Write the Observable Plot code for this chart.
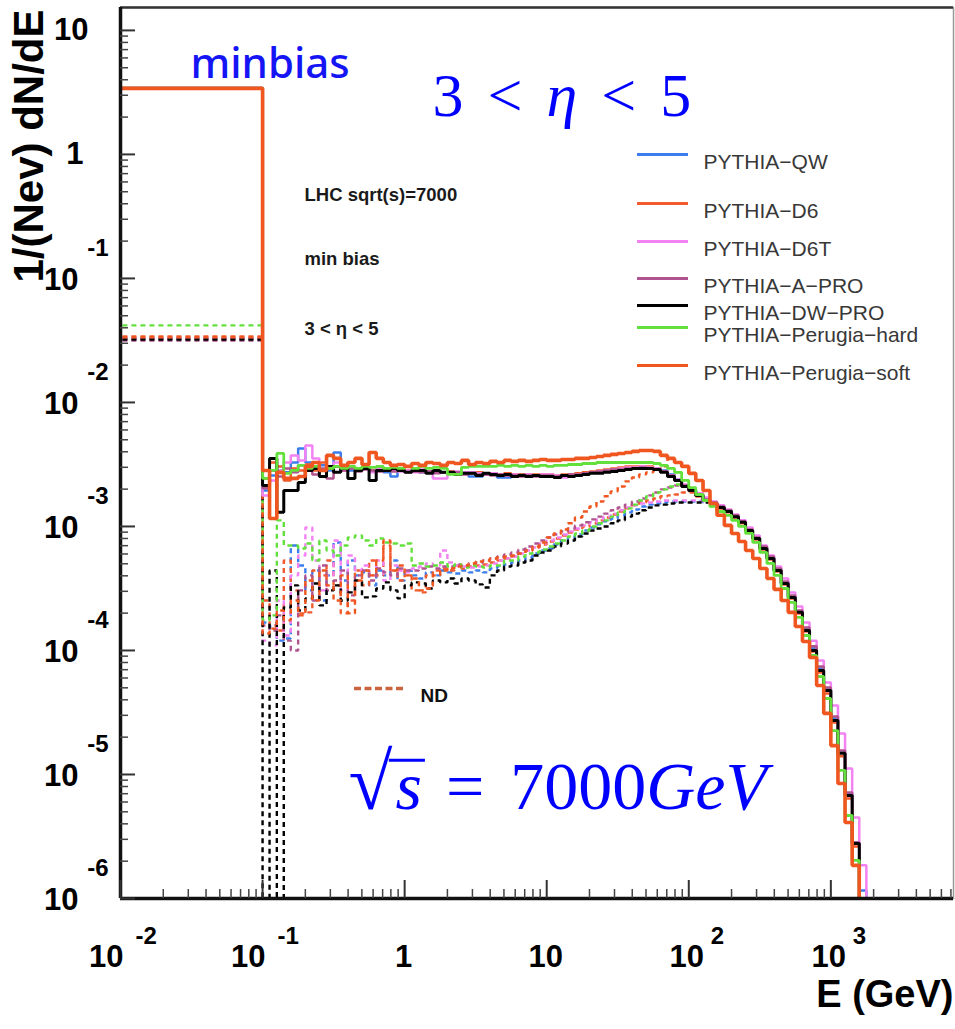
<!DOCTYPE html>
<html><head><meta charset="utf-8">
<script src="https://cdn.jsdelivr.net/npm/d3@7"></script>
<script src="https://cdn.jsdelivr.net/npm/@observablehq/plot@0.6"></script>
<style>
html,body{margin:0;padding:0;background:#fff;}
#chart svg{display:block;}
</style></head>
<body><div id="chart"></div>
<script>
// ---------------- data ----------------
const tunes = ["PYTHIA\u2212QW", "PYTHIA\u2212D6", "PYTHIA\u2212D6T", "PYTHIA\u2212A\u2212PRO",
  "PYTHIA\u2212DW\u2212PRO", "PYTHIA\u2212Perugia\u2212hard", "PYTHIA\u2212Perugia\u2212soft"];
const tuneColors = ["#3b7ded", "#f25b2e", "#f383f3", "#b0548f", "#000000", "#63e03c", "#f0561f"];

// histogram bin edges (GeV), 20 bins per decade from 0.1 GeV
const binEdges = [0.1,0.112,0.126,0.141,0.158,0.178,0.2,0.224,0.251,0.282,0.316,0.355,0.398,0.447,0.501,0.562,0.631,0.708,0.794,0.891,
  1,1.12,1.26,1.41,1.58,1.78,2,2.24,2.51,2.82,3.16,3.55,3.98,4.47,5.01,5.62,6.31,7.08,7.94,8.91,
  10,11.2,12.6,14.1,15.8,17.8,20,22.4,25.1,28.2,31.6,35.5,39.8,44.7,50.1,56.2,63.1,70.8,79.4,89.1,
  100,112,126,141,158,178,200,224,251,282,316,355,398,447,501,562,631,708,794,891,
  1000,1122,1259,1413,1585,1778];
// first (wide) bin runs from E = 0 to 0.1 GeV
const firstBinEdges = [0, 0.1];

// min-bias first-bin content and ND first-bin content per tune
const mbFirstBin = [3.41, 3.41, 3.41, 3.41, 3.41, 3.41, 3.41];
const ndFirstBin = [3.28e-2, 3.41e-2, 3.28e-2, 3.16e-2, 3.22e-2, 4.18e-2, 3.35e-2];

// min-bias (solid) bin contents, bins 0..84
const mbQW = [1.95e-3,2.58e-3,2.83e-3,2.73e-3,3.28e-3,4.26e-3,3.28e-3,3.05e-3,3.11e-3,2.83e-3,
  3.95e-3,3.05e-3,2.83e-3,2.94e-3,2.99e-3,2.83e-3,2.94e-3,2.73e-3,2.53e-3,2.83e-3,
  2.78e-3,2.83e-3,2.73e-3,2.78e-3,2.83e-3,2.73e-3,2.73e-3,2.68e-3,2.68e-3,2.53e-3,
  2.53e-3,2.68e-3,2.68e-3,2.48e-3,2.48e-3,2.63e-3,2.63e-3,2.58e-3,2.58e-3,2.58e-3,
  2.53e-3,2.53e-3,2.58e-3,2.63e-3,2.63e-3,2.68e-3,2.73e-3,2.78e-3,2.83e-3,2.83e-3,
  2.88e-3,2.94e-3,2.99e-3,2.99e-3,2.99e-3,2.94e-3,2.83e-3,2.63e-3,2.39e-3,2.14e-3,
  1.95e-3,1.81e-3,1.65e-3,1.53e-3,1.42e-3,1.32e-3,1.20e-3,1.08e-3,9.46e-4,8.15e-4,
  6.77e-4,5.62e-4,4.50e-4,3.54e-4,2.73e-4,2.06e-4,1.48e-4,1.04e-4,7.16e-5,4.85e-5,
  2.83e-5,1.50e-5,7.03e-6,2.83e-6,1.16e-6];
const mbD6 = [2.44e-3,3.28e-3,3.05e-3,2.35e-3,2.94e-3,2.83e-3,3.16e-3,2.83e-3,3.28e-3,2.94e-3,
  3.05e-3,2.83e-3,2.99e-3,2.88e-3,2.94e-3,2.83e-3,2.94e-3,2.83e-3,2.88e-3,2.83e-3,
  2.83e-3,2.78e-3,2.83e-3,2.78e-3,2.78e-3,2.73e-3,2.78e-3,2.73e-3,2.73e-3,2.68e-3,
  2.73e-3,2.68e-3,2.68e-3,2.63e-3,2.68e-3,2.63e-3,2.63e-3,2.63e-3,2.63e-3,2.63e-3,
  2.63e-3,2.58e-3,2.63e-3,2.63e-3,2.68e-3,2.73e-3,2.78e-3,2.83e-3,2.88e-3,2.94e-3,
  2.99e-3,3.05e-3,3.05e-3,3.05e-3,3.05e-3,2.94e-3,2.78e-3,2.58e-3,2.35e-3,2.10e-3,
  1.92e-3,1.75e-3,1.62e-3,1.50e-3,1.40e-3,1.30e-3,1.18e-3,1.06e-3,9.12e-4,7.86e-4,
  6.52e-4,5.42e-4,4.34e-4,3.41e-4,2.63e-4,1.99e-4,1.42e-4,9.82e-5,6.65e-5,4.50e-5,
  2.63e-5,1.40e-5,6.40e-6,2.63e-6,0];
const mbD6T = [1.78e-3,2.35e-3,2.83e-3,3.28e-3,3.74e-3,3.41e-3,4.50e-3,3.54e-3,2.53e-3,3.05e-3,
  3.28e-3,2.83e-3,3.05e-3,2.83e-3,2.94e-3,2.73e-3,2.94e-3,2.83e-3,2.88e-3,2.78e-3,
  2.83e-3,2.73e-3,2.88e-3,2.78e-3,2.44e-3,2.44e-3,2.73e-3,2.78e-3,2.73e-3,2.73e-3,
  2.68e-3,2.63e-3,2.68e-3,2.63e-3,2.58e-3,2.63e-3,2.58e-3,2.63e-3,2.58e-3,2.63e-3,
  2.63e-3,2.58e-3,2.48e-3,2.53e-3,2.63e-3,2.68e-3,2.73e-3,2.78e-3,2.83e-3,2.88e-3,
  2.94e-3,2.99e-3,2.99e-3,3.05e-3,2.99e-3,2.94e-3,2.78e-3,2.58e-3,2.39e-3,2.18e-3,
  1.99e-3,1.85e-3,1.71e-3,1.59e-3,1.48e-3,1.37e-3,1.25e-3,1.12e-3,9.82e-4,8.46e-4,
  7.03e-4,5.84e-4,4.76e-4,3.81e-4,2.94e-4,2.26e-4,1.68e-4,1.20e-4,8.31e-5,5.52e-5,
  3.60e-5,2.14e-5,1.12e-5,4.50e-6,1.85e-6];
const mbAPRO = [2.03e-3,2.83e-3,2.53e-3,2.94e-3,2.73e-3,3.11e-3,2.83e-3,2.63e-3,2.94e-3,2.44e-3,
  3.05e-3,2.83e-3,2.94e-3,2.78e-3,2.88e-3,2.83e-3,2.78e-3,2.88e-3,2.78e-3,2.83e-3,
  2.73e-3,2.78e-3,2.73e-3,2.78e-3,2.68e-3,2.73e-3,2.68e-3,2.73e-3,2.63e-3,2.68e-3,
  2.63e-3,2.63e-3,2.58e-3,2.63e-3,2.58e-3,2.58e-3,2.53e-3,2.58e-3,2.53e-3,2.58e-3,
  2.58e-3,2.53e-3,2.58e-3,2.63e-3,2.63e-3,2.68e-3,2.73e-3,2.78e-3,2.83e-3,2.88e-3,
  2.88e-3,2.94e-3,2.94e-3,2.99e-3,2.94e-3,2.88e-3,2.78e-3,2.58e-3,2.35e-3,2.14e-3,
  1.95e-3,1.81e-3,1.65e-3,1.56e-3,1.45e-3,1.35e-3,1.23e-3,1.10e-3,9.46e-4,8.15e-4,
  6.90e-4,5.73e-4,4.58e-4,3.60e-4,2.78e-4,2.10e-4,1.53e-4,1.08e-4,7.43e-5,5.03e-5,
  2.94e-5,1.56e-5,7.16e-6,2.83e-6,0];
const mbDWPRO = [2.14e-3,3.54e-3,1.30e-3,1.95e-3,1.95e-3,2.26e-3,2.83e-3,2.94e-3,2.53e-3,3.05e-3,
  2.73e-3,2.94e-3,2.44e-3,2.83e-3,2.94e-3,2.35e-3,2.83e-3,2.83e-3,2.94e-3,2.83e-3,
  2.73e-3,2.83e-3,2.83e-3,2.68e-3,2.83e-3,2.73e-3,2.73e-3,2.63e-3,2.68e-3,2.68e-3,
  2.58e-3,2.68e-3,2.63e-3,2.58e-3,2.63e-3,2.53e-3,2.58e-3,2.53e-3,2.58e-3,2.53e-3,
  2.53e-3,2.48e-3,2.58e-3,2.53e-3,2.58e-3,2.63e-3,2.68e-3,2.68e-3,2.73e-3,2.78e-3,
  2.83e-3,2.88e-3,2.94e-3,2.94e-3,2.94e-3,2.88e-3,2.73e-3,2.53e-3,2.35e-3,2.10e-3,
  1.95e-3,1.78e-3,1.62e-3,1.53e-3,1.42e-3,1.32e-3,1.20e-3,1.08e-3,9.29e-4,8.00e-4,
  6.65e-4,5.52e-4,4.42e-4,3.47e-4,2.68e-4,2.03e-4,1.45e-4,1.00e-4,6.90e-5,4.76e-5,
  2.73e-5,1.48e-5,6.77e-6,2.78e-6,0];
const mbPhard = [2.44e-3,2.83e-3,3.88e-3,2.68e-3,2.83e-3,3.11e-3,2.94e-3,3.05e-3,2.83e-3,2.94e-3,
  3.05e-3,2.94e-3,3.05e-3,2.94e-3,3.05e-3,2.99e-3,3.05e-3,2.94e-3,2.99e-3,2.94e-3,
  3.05e-3,2.94e-3,3.05e-3,2.94e-3,2.99e-3,2.94e-3,2.63e-3,2.63e-3,2.99e-3,3.05e-3,
  3.05e-3,3.05e-3,3.05e-3,3.11e-3,3.05e-3,3.11e-3,3.05e-3,3.11e-3,3.05e-3,3.11e-3,
  3.05e-3,3.11e-3,3.11e-3,3.16e-3,3.16e-3,3.22e-3,3.22e-3,3.28e-3,3.28e-3,3.28e-3,
  3.28e-3,3.28e-3,3.28e-3,3.28e-3,3.28e-3,3.22e-3,3.11e-3,2.94e-3,2.73e-3,2.35e-3,
  2.06e-3,1.81e-3,1.62e-3,1.45e-3,1.32e-3,1.23e-3,1.12e-3,1.00e-3,8.78e-4,7.43e-4,
  6.17e-4,5.03e-4,4.03e-4,3.16e-4,2.44e-4,1.85e-4,1.32e-4,9.12e-5,6.17e-5,4.10e-5,
  2.26e-5,1.08e-5,4.67e-6,2.03e-6,0];
const mbPsoft = [2.83e-3,1.16e-3,2.73e-3,2.44e-3,2.44e-3,2.53e-3,3.05e-3,3.28e-3,2.83e-3,3.74e-3,
  3.54e-3,3.11e-3,3.28e-3,3.54e-3,3.16e-3,3.95e-3,3.54e-3,3.28e-3,3.11e-3,3.16e-3,
  3.05e-3,3.22e-3,3.11e-3,3.28e-3,3.22e-3,3.11e-3,3.28e-3,3.22e-3,3.41e-3,3.16e-3,
  3.28e-3,3.22e-3,3.35e-3,3.28e-3,3.41e-3,3.35e-3,3.41e-3,3.35e-3,3.41e-3,3.47e-3,
  3.41e-3,3.41e-3,3.47e-3,3.47e-3,3.54e-3,3.54e-3,3.60e-3,3.67e-3,3.74e-3,3.81e-3,
  3.88e-3,3.95e-3,4.03e-3,4.10e-3,4.10e-3,4.03e-3,3.74e-3,3.54e-3,3.28e-3,3.05e-3,
  2.68e-3,2.35e-3,1.95e-3,1.53e-3,1.23e-3,1.02e-3,8.78e-4,7.57e-4,6.40e-4,5.52e-4,
  4.58e-4,3.81e-4,3.11e-4,2.53e-4,2.03e-4,1.56e-4,1.18e-4,8.78e-5,5.22e-5,3.11e-5,
  1.71e-5,8.46e-6,4.10e-6,1.85e-6,0];

// non-diffractive (dotted) bin contents, bins 0..64
const ndQW = [1.68e-4,1.56e-4,1.20e-4,1.25e-4,7.03e-4,4.85e-4,3.05e-4,4.42e-4,2.53e-4,4.03e-4,
  7.43e-4,3.67e-4,5.32e-4,4.03e-4,4.26e-4,3.35e-4,4.42e-4,4.03e-4,5.32e-4,3.67e-4,
  4.42e-4,4.03e-4,3.81e-4,4.26e-4,4.03e-4,4.42e-4,4.26e-4,4.18e-4,4.42e-4,4.26e-4,
  4.42e-4,4.26e-4,4.58e-4,4.76e-4,4.94e-4,5.12e-4,5.32e-4,5.62e-4,6.06e-4,6.40e-4,
  6.65e-4,7.16e-4,7.71e-4,8.15e-4,8.62e-4,9.29e-4,9.82e-4,1.04e-3,1.10e-3,1.16e-3,
  1.23e-3,1.30e-3,1.37e-3,1.45e-3,1.50e-3,1.53e-3,1.56e-3,1.59e-3,1.59e-3,1.59e-3,
  1.59e-3,1.59e-3,1.56e-3,1.53e-3,1.42e-3];
const ndD6 = [2.53e-4,1.59e-4,1.45e-4,5.32e-4,3.05e-4,1.99e-4,2.03e-4,4.42e-4,4.03e-4,5.32e-4,
  3.35e-4,1.99e-4,2.53e-4,4.42e-4,3.35e-4,5.32e-4,4.03e-4,7.03e-4,4.42e-4,3.67e-4,
  4.03e-4,3.05e-4,2.94e-4,4.03e-4,4.42e-4,4.58e-4,4.42e-4,4.85e-4,4.58e-4,4.76e-4,
  4.85e-4,4.94e-4,5.12e-4,5.32e-4,5.52e-4,5.73e-4,6.06e-4,6.40e-4,6.77e-4,7.16e-4,
  7.57e-4,8.00e-4,8.46e-4,8.95e-4,9.46e-4,1.00e-3,1.06e-3,1.12e-3,1.18e-3,1.25e-3,
  1.32e-3,1.40e-3,1.48e-3,1.56e-3,1.62e-3,1.68e-3,1.75e-3,1.78e-3,1.81e-3,1.88e-3,
  1.88e-3,1.75e-3,1.62e-3,1.50e-3,1.40e-3];
const ndD6T = [1.20e-4,1.10e-4,2.53e-4,1.32e-4,4.03e-4,5.84e-4,9.82e-4,5.32e-4,3.05e-4,4.03e-4,
  7.71e-4,3.05e-4,5.84e-4,4.42e-4,4.85e-4,4.03e-4,5.32e-4,3.67e-4,4.85e-4,4.42e-4,
  4.26e-4,4.58e-4,4.76e-4,5.03e-4,4.85e-4,6.40e-4,5.12e-4,4.85e-4,4.76e-4,4.67e-4,
  4.76e-4,4.85e-4,5.03e-4,5.32e-4,5.52e-4,5.73e-4,6.06e-4,6.40e-4,6.77e-4,7.29e-4,
  7.71e-4,8.15e-4,8.62e-4,9.12e-4,9.64e-4,1.02e-3,1.08e-3,1.14e-3,1.20e-3,1.27e-3,
  1.35e-3,1.42e-3,1.48e-3,1.53e-3,1.56e-3,1.59e-3,1.62e-3,1.62e-3,1.62e-3,1.62e-3,
  1.62e-3,1.62e-3,1.59e-3,1.56e-3,1.48e-3];
const ndAPRO = [1.59e-4,1.45e-4,1.92e-4,1.20e-4,1.00e-4,3.05e-4,4.03e-4,2.53e-4,4.85e-4,3.05e-4,
  3.67e-4,4.42e-4,2.78e-4,4.03e-4,4.42e-4,3.67e-4,4.58e-4,4.26e-4,4.03e-4,4.58e-4,
  4.42e-4,4.42e-4,4.58e-4,4.76e-4,4.58e-4,4.76e-4,4.76e-4,4.94e-4,4.85e-4,5.03e-4,
  5.12e-4,5.32e-4,5.52e-4,5.73e-4,5.94e-4,6.17e-4,6.52e-4,6.90e-4,7.29e-4,7.71e-4,
  8.15e-4,8.62e-4,9.12e-4,9.64e-4,1.02e-3,1.08e-3,1.14e-3,1.20e-3,1.27e-3,1.35e-3,
  1.42e-3,1.50e-3,1.59e-3,1.68e-3,1.78e-3,1.88e-3,1.99e-3,2.06e-3,2.14e-3,2.10e-3,
  1.95e-3,1.78e-3,1.62e-3,1.53e-3,1.42e-3];
const ndDWPRO = [0,4.42e-4,0,2.22e-4,3.35e-4,2.10e-4,2.63e-4,3.47e-4,2.31e-4,3.05e-4,
  3.35e-4,2.53e-4,2.94e-4,3.67e-4,2.68e-4,2.73e-4,3.16e-4,3.54e-4,3.05e-4,2.63e-4,
  3.35e-4,3.54e-4,3.47e-4,3.16e-4,3.67e-4,3.54e-4,3.81e-4,3.47e-4,3.81e-4,3.67e-4,
  3.41e-4,3.22e-4,4.03e-4,4.42e-4,4.76e-4,4.85e-4,5.12e-4,5.32e-4,5.84e-4,6.17e-4,
  6.40e-4,6.90e-4,7.29e-4,7.71e-4,8.31e-4,8.78e-4,9.29e-4,9.64e-4,1.00e-3,1.06e-3,
  1.12e-3,1.20e-3,1.27e-3,1.35e-3,1.42e-3,1.48e-3,1.50e-3,1.53e-3,1.56e-3,1.56e-3,
  1.56e-3,1.56e-3,1.56e-3,1.53e-3,1.42e-3];
const ndPhard = [1.75e-4,1.92e-4,1.12e-3,7.03e-4,7.03e-4,6.65e-4,7.29e-4,5.32e-4,7.71e-4,6.40e-4,
  5.84e-4,7.03e-4,8.15e-4,8.46e-4,7.71e-4,7.03e-4,8.00e-4,7.43e-4,7.29e-4,7.03e-4,
  7.29e-4,4.85e-4,5.03e-4,4.76e-4,4.85e-4,5.12e-4,4.76e-4,4.94e-4,4.67e-4,4.85e-4,
  4.76e-4,4.67e-4,4.85e-4,4.85e-4,5.32e-4,5.32e-4,5.73e-4,6.06e-4,6.17e-4,6.52e-4,
  6.90e-4,7.29e-4,7.71e-4,8.31e-4,8.78e-4,9.29e-4,1.00e-3,1.06e-3,1.12e-3,1.20e-3,
  1.30e-3,1.40e-3,1.50e-3,1.62e-3,1.75e-3,1.88e-3,1.99e-3,2.10e-3,2.18e-3,2.14e-3,
  2.03e-3,1.81e-3,1.62e-3,1.45e-3,1.32e-3];
const ndPsoft = [1.37e-4,1.50e-4,2.10e-4,1.75e-4,2.53e-4,1.92e-4,3.67e-4,2.53e-4,4.42e-4,3.35e-4,
  2.53e-4,4.03e-4,1.99e-4,3.67e-4,4.42e-4,4.03e-4,5.32e-4,7.71e-4,4.42e-4,4.85e-4,
  4.03e-4,3.81e-4,3.05e-4,3.16e-4,4.03e-4,4.42e-4,4.58e-4,4.76e-4,4.85e-4,5.03e-4,
  5.22e-4,5.32e-4,5.52e-4,5.62e-4,5.73e-4,5.84e-4,6.06e-4,6.40e-4,6.90e-4,7.43e-4,
  8.15e-4,8.78e-4,9.46e-4,1.06e-3,1.18e-3,1.32e-3,1.45e-3,1.59e-3,1.75e-3,1.92e-3,
  2.10e-3,2.31e-3,2.48e-3,2.63e-3,2.73e-3,2.83e-3,3.05e-3,3.54e-3,3.28e-3,3.05e-3,
  2.68e-3,2.35e-3,1.95e-3,1.53e-3,1.23e-3];

// axis ticks and labels
const xTickValues = [0.01, 0.1, 1, 10, 100, 1000];
const xTickBase = ["10", "10", "1", "10", "10", "10"];
const xTickExp = ["-2", "-1", "", "", "2", "3"];
const yTickValues = [10, 1, 1e-1, 1e-2, 1e-3, 1e-4, 1e-5, 1e-6];
const yTickBase = ["10", "1", "10", "10", "10", "10", "10", "10"];
const yTickExp = ["", "", "-1", "-2", "-3", "-4", "-5", "-6"];
const minorMultipliers = [2, 3, 4, 5, 6, 7, 8, 9];

// texts
const yTitle = "1/(Nev) dN/dE";
const xTitle = "E (GeV)";
const minbiasLabel = "minbias";
const etaBig = "3<\u03b7<5";
const sqrtsBig = "\u221as=7000GeV";
const infoLines = ["LHC sqrt(s)=7000", "min bias", "3 < \u03b7 < 5"];
const ndLabel = "ND";

// ---------------- layout ----------------
const W = 955, H = 1029;
const M = {top: 7, right: 2, bottom: 131, left: 120};
const plotW = W - M.left - M.right;
const plotH = H - M.top - M.bottom;
const xDomain = [0.01, 7300];
const yDomain = [1e-6, 15.3];

const FLOOR = 1e-7;        // empty bins drawn below the axis (clipped)
const OFF_LEFT = 1e-3;     // E = 0 edge is off the log axis (clipped)

// overbar of the radical in the "sqrt(s)" annotation (annotation placement, in axis units)
const radicalBar = {E1: 0.78, E2: 1.40, v: 1.3e-5};

const mbSeries = [mbQW, mbD6, mbD6T, mbAPRO, mbDWPRO, mbPhard, mbPsoft];
const ndSeries = [ndQW, ndD6, ndD6T, ndAPRO, ndDWPRO, ndPhard, ndPsoft];

function stepPoints(first, vals, dropAtEnd) {
  const lo = firstBinEdges[0] > 0 ? firstBinEdges[0] : OFF_LEFT;
  const pts = [{E: lo, v: first}];
  vals.forEach((v, k) => pts.push({E: binEdges[k], v: v > 0 ? v : FLOOR}));
  pts.push({E: binEdges[vals.length], v: dropAtEnd ? FLOOR : pts[pts.length - 1].v});
  return pts;
}

const solidWidths = [2.5, 2.5, 2.5, 2.5, 3, 2.8, 3.6];
const ndMarks = tunes.map((t, i) => Plot.line(stepPoints(ndFirstBin[i], ndSeries[i], false), {
  x: "E", y: "v", curve: "step-after", stroke: tuneColors[i], strokeWidth: 2.4,
  strokeDasharray: "5,4", strokeLinejoin: "miter", strokeLinecap: "butt", clip: true
}));
const mbMarks = tunes.map((t, i) => Plot.line(stepPoints(mbFirstBin[i], mbSeries[i], true), {
  x: "E", y: "v", curve: "step-after", stroke: tuneColors[i], strokeWidth: solidWidths[i],
  strokeLinejoin: "miter", strokeLinecap: "butt", clip: true
}));

// ticks
const yMinor = yTickValues.filter(v => v < 10).flatMap(d => minorMultipliers.map(m => d * m)).filter(v => v <= yDomain[1]);
const xMinor = xTickValues.flatMap(d => minorMultipliers.map(m => d * m)).filter(v => v <= xDomain[1]);

const yLab = yTickValues.map((v, i) => ({v, base: yTickBase[i], exp: yTickExp[i]}));
const xLab = xTickValues.map((v, i) => ({v, base: xTickBase[i], exp: xTickExp[i]}));
const xNeg = xLab.filter(d => d.exp.startsWith("-"));
const xPos = xLab.filter(d => d.exp !== "" && !d.exp.startsWith("-"));
const xPlain = xLab.filter(d => d.exp === "");

const sans = "'Liberation Sans', Arial, Helvetica, sans-serif";
const serif = "'Liberation Serif', 'Times New Roman', serif";
const lblBig = {fontSize: 31, fontWeight: "bold", fill: "#000", fontFamily: sans};
const lblExp = {fontSize: 24, fontWeight: "bold", fill: "#000", fontFamily: sans};

// short horizontal stroke used for legend swatches
const hSeg = (half) => ({draw(context) { context.moveTo(-half, 0); context.lineTo(half, 0); }});

// legend
const legendRowDy = [147, 196, 234, 271, 298, 320, 358];
const legendMarks = tunes.flatMap((t, i) => [
  Plot.dot([t], {frameAnchor: "top-left", dx: 542, dy: legendRowDy[i], symbol: hSeg(25.5),
    stroke: tuneColors[i], strokeWidth: 3, fill: "none"}),
  Plot.text([t], {frameAnchor: "top-left", text: d => d, dx: 583, dy: legendRowDy[i],
    textAnchor: "start", fontSize: 21, fill: "#383838", fontFamily: sans})
]);

const infoDy = [180, 244, 314];

const svg = Plot.plot({
  width: W, height: H,
  marginTop: M.top, marginRight: M.right, marginBottom: M.bottom, marginLeft: M.left,
  x: {type: "log", domain: xDomain, axis: null},
  y: {type: "log", domain: yDomain, axis: null},
  style: {background: "#fff", fontFamily: sans},
  marks: [
    Plot.frame({stroke: "#999", strokeWidth: 1.5}),
    ...ndMarks,
    ...mbMarks,
    Plot.ruleY([yDomain[1]], {stroke: "#333", strokeWidth: 2.5}),
    Plot.ruleX([xDomain[0]], {stroke: "#111", strokeWidth: 3.5}),
    Plot.ruleY([yDomain[0]], {stroke: "#111", strokeWidth: 3.5}),
    // ticks (inward)
    Plot.tickY(yTickValues, {y: d => d, insetRight: plotW - 15, stroke: "#333", strokeWidth: 2}),
    Plot.tickY(yMinor, {y: d => d, insetRight: plotW - 8, stroke: "#444", strokeWidth: 1.5}),
    Plot.tickX(xTickValues, {x: d => d, insetTop: plotH - 18, stroke: "#333", strokeWidth: 2}),
    Plot.tickX(xMinor, {x: d => d, insetTop: plotH - 9, stroke: "#444", strokeWidth: 1.5}),
    // y tick labels
    Plot.text(yLab.filter(d => d.exp === "" && d.base === "10"), {frameAnchor: "left", y: "v", text: "base", textAnchor: "end", dx: -32, ...lblBig}),
    Plot.text(yLab.filter(d => d.exp === "" && d.base === "1"), {frameAnchor: "left", y: "v", text: "base", textAnchor: "end", dx: -37, ...lblBig}),
    Plot.text(yLab.filter(d => d.exp !== ""), {frameAnchor: "left", y: "v", text: "base", textAnchor: "end", dx: -42, dy: 2, ...lblBig}),
    Plot.text(yLab.filter(d => d.exp !== ""), {frameAnchor: "left", y: "v", text: "exp", textAnchor: "end", dx: -12, dy: -30, ...lblExp}),
    // x tick labels
    Plot.text(xNeg, {frameAnchor: "bottom", x: "v", text: "base", textAnchor: "end", dx: 3, dy: 68, ...lblBig}),
    Plot.text(xNeg, {frameAnchor: "bottom", x: "v", text: "exp", textAnchor: "start", dx: 15, dy: 45, ...lblExp}),
    Plot.text(xPlain, {frameAnchor: "bottom", x: "v", text: "base", textAnchor: "middle", dx: -1, dy: 68, ...lblBig}),
    Plot.text(xPos, {frameAnchor: "bottom", x: "v", text: "base", textAnchor: "middle", dx: -2, dy: 68, ...lblBig}),
    Plot.text(xPos, {frameAnchor: "bottom", x: "v", text: "exp", textAnchor: "start", dx: 22, dy: 45, ...lblExp}),
    // axis titles
    Plot.text([yTitle], {frameAnchor: "top-left", text: d => d, rotate: -90, textAnchor: "end", dx: -107, dy: 2, fontSize: 42, fontWeight: "bold", fill: "#000", fontFamily: sans}),
    Plot.text([xTitle], {frameAnchor: "bottom-right", text: d => d, textAnchor: "end", dx: 0, dy: 108, fontSize: 38, fontWeight: "bold", fill: "#000", fontFamily: sans}),
    // annotations
    Plot.text([minbiasLabel], {frameAnchor: "top-left", text: d => d, textAnchor: "start", lineAnchor: "bottom", dx: 70, dy: 70, fontSize: 42, fontWeight: 500, fill: "#1414f5", fontFamily: "'Noto Sans', 'DejaVu Sans', sans-serif"}),
    Plot.text([etaBig], {frameAnchor: "top-left", text: d => d, textAnchor: "start", lineAnchor: "bottom", dx: 312, dy: 108, fontSize: 62, fill: "#0000ff", fontFamily: serif}),
    Plot.text([sqrtsBig], {frameAnchor: "bottom-left", text: d => d, textAnchor: "start", lineAnchor: "bottom", dx: 228, dy: -90, fontSize: 68, fill: "#0000ff", fontFamily: serif}),
    Plot.ruleY([radicalBar], {y: "v", x1: "E1", x2: "E2", stroke: "#0000ff", strokeWidth: 3}),
    ...infoLines.map((s, i) => Plot.text([s], {frameAnchor: "top-left", text: d => d, textAnchor: "start", dx: 184, dy: infoDy[i], fontSize: 18.5, fontWeight: "bold", fill: "#1a1a1a", fontFamily: sans})),
    ...legendMarks,
    Plot.dot([ndLabel], {frameAnchor: "top-left", dx: 258, dy: 681, symbol: hSeg(24.5), stroke: "#c9643e", strokeWidth: 3.5, strokeDasharray: "7,3.5", fill: "none"}),
    Plot.text([ndLabel], {frameAnchor: "top-left", text: d => d, textAnchor: "start", dx: 300, dy: 681, fontSize: 19, fontWeight: "bold", fill: "#111", fontFamily: sans})
  ]
});

// typeset the two math annotations with italic variables
const etaParts = [{s: "3"}, {s: "<", dx: 24}, {s: "\u03b7", dx: 24, it: true}, {s: "<", dx: 24}, {s: "5", dx: 24}];
const sqrtParts = [{s: "\u221a", size: 80}, {s: "s", dx: 3, it: true}, {s: "=", dx: 24}, {s: "7000", dx: 26}, {s: "GeV", it: true}];
function typeset(node, parts) {
  const t = d3.select(node);
  t.text(null);
  parts.forEach(p => {
    const ts = t.append("tspan").text(p.s);
    if (p.dx) ts.attr("dx", p.dx);
    if (p.it) ts.attr("font-style", "italic");
    if (p.size) ts.attr("font-size", p.size);
  });
}
d3.select(svg).selectAll("text").each(function() {
  if (this.textContent === etaBig) typeset(this, etaParts);
  else if (this.textContent === sqrtsBig) typeset(this, sqrtParts);
});

document.getElementById("chart").appendChild(svg);
</script>
</body></html>
